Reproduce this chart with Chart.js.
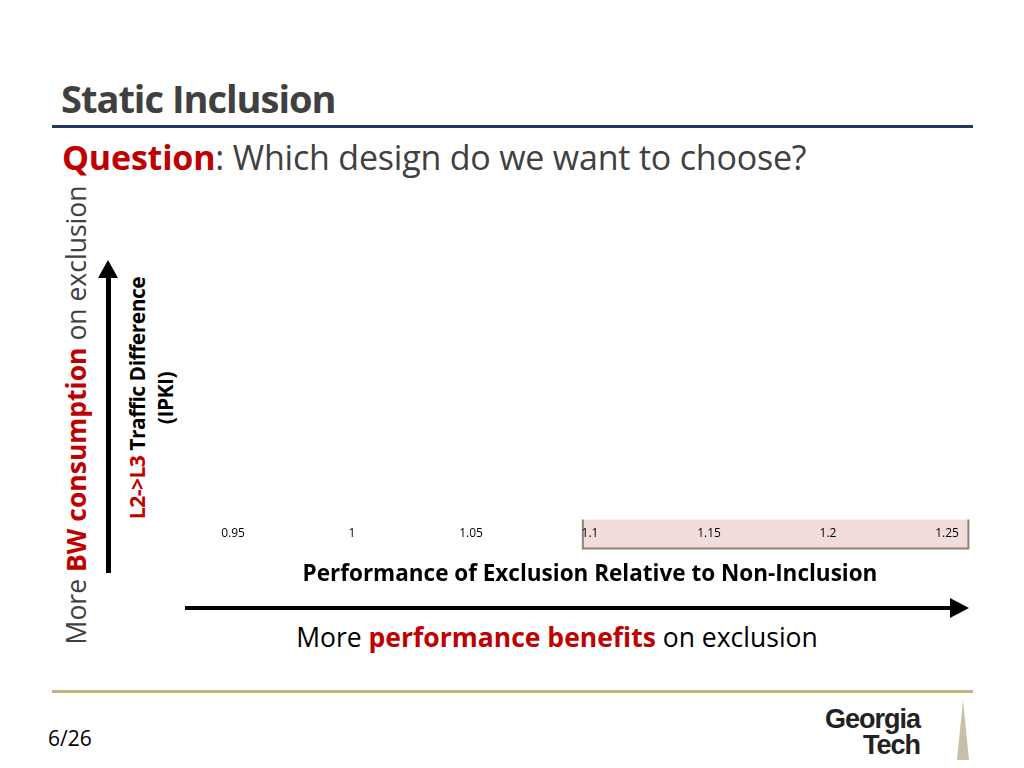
<!DOCTYPE html>
<html>
<head>
<meta charset="utf-8">
<script src="https://cdn.jsdelivr.net/npm/chart.js@4"></script>
<style>
  body { margin: 0; width: 1024px; height: 768px; background: #fff; font-family: "Open Sans", sans-serif; color: #404040; position: relative; overflow: hidden; }
  .abs { position: absolute; white-space: nowrap; }
  #wrap { position: absolute; left: 200px; top: 178px; width: 790px; height: 410px; }
</style>
</head>
<body>
<div class="abs" style="left:61px;top:72px;font-size:38px;font-weight:bold;letter-spacing:-1px;">Static Inclusion</div>
<div class="abs" style="left:52px;top:125px;width:921px;height:3px;background:#1f3864;"></div>
<div class="abs" style="left:62px;top:134px;font-size:34px;letter-spacing:-0.2px;"><b style="color:#c00000">Question</b>: Which design do we want to choose?</div>

<div class="abs" style="left:76px;top:415px;font-size:26.5px;transform:translate(-50%,-50%) rotate(-90deg);">More <b style="color:#c00000">BW consumption</b> on exclusion</div>
<div class="abs" style="left:106px;top:276px;width:5px;height:297px;background:#000;"></div>
<div class="abs" style="left:98px;top:260px;width:0;height:0;border-left:10px solid transparent;border-right:10px solid transparent;border-bottom:18px solid #000;"></div>

<div class="abs" style="left:151px;top:398px;font-size:21px;font-weight:bold;color:#000;text-align:center;line-height:28px;letter-spacing:-0.5px;transform:translate(-50%,-50%) rotate(-90deg);"><span style="color:#c00000">L2-&gt;L3</span> Traffic Difference<br>(IPKI)</div>

<div id="wrap"><canvas id="c"></canvas></div>

<div class="abs" style="left:185px;top:606px;width:768px;height:4px;background:#000;"></div>
<div class="abs" style="left:950px;top:598px;width:0;height:0;border-top:10px solid transparent;border-bottom:10px solid transparent;border-left:19px solid #000;"></div>
<div class="abs" style="left:557px;top:637px;font-size:26.5px;color:#000;transform:translate(-50%,-50%);">More <b style="color:#c00000">performance benefits</b> on exclusion</div>

<div class="abs" style="left:52px;top:690px;width:921px;height:3px;background:#c8b27a;"></div>
<div class="abs" style="left:48px;top:724px;font-size:21px;color:#000;">6/26</div>
<div class="abs" style="left:825px;top:706px;font-size:27px;font-family:'Liberation Sans',sans-serif;font-weight:bold;color:#222;line-height:26px;letter-spacing:-1px;text-align:right;">Georgia<br>Tech</div>
<div class="abs" style="left:957px;top:700px;width:0;height:0;border-left:6px solid transparent;border-right:6px solid transparent;border-bottom:60px solid #c8bfa8;"></div>

<script>
// x axis range and ticks
const xMin = 0.95;
const xMax = 1.25;
const xStep = 0.05;
const xTitle = 'Performance of Exclusion Relative to Non-Inclusion';
// shaded region on the axis (x values)
const regionStart = 1.097;
const regionEnd = 1.259;
// no points plotted in the reference
const points = [];

const regionBox = {
    id: 'regionBox',
    beforeDraw(chart) {
        const x = chart.scales.x;
        const ctx = chart.ctx;
        const a = x.getPixelForValue(regionStart);
        const b = x.getPixelForValue(regionEnd);
        const top = chart.chartArea.bottom + 5;
        const h = 29;
        ctx.save();
        ctx.fillStyle = '#f2dcdb';
        ctx.fillRect(a, top, b - a, h);
        ctx.strokeStyle = '#8c8478';
        ctx.lineWidth = 2;
        ctx.beginPath();
        ctx.moveTo(a, top);
        ctx.lineTo(a, top + h);
        ctx.lineTo(b, top + h);
        ctx.lineTo(b, top);
        ctx.stroke();
        ctx.restore();
    }
};

new Chart(document.getElementById('c'), {
    type: 'scatter',
    data: { datasets: [{ data: points }] },
    options: {
        responsive: true,
        maintainAspectRatio: false,
        animation: false,
        layout: { padding: { left: 33, right: 43, top: 0, bottom: 0 } },
        plugins: { legend: { display: false }, tooltip: { enabled: false } },
        scales: {
            x: {
                type: 'linear', min: xMin, max: xMax,
                grid: { display: false }, border: { display: false },
                ticks: {
                    stepSize: xStep, maxRotation: 0, padding: 4, color: '#000',
                    font: { family: 'Open Sans', size: 12 },
                    callback: v => String(parseFloat(v.toFixed(2)))
                },
                title: { display: true, text: xTitle, color: '#000', padding: { top: 16, bottom: 0 }, font: { family: 'Open Sans', size: 22.5, weight: 'bold' } }
            },
            y: { display: false, min: 0, max: 1 }
        }
    },
    plugins: [regionBox]
});
</script>
</body>
</html>
